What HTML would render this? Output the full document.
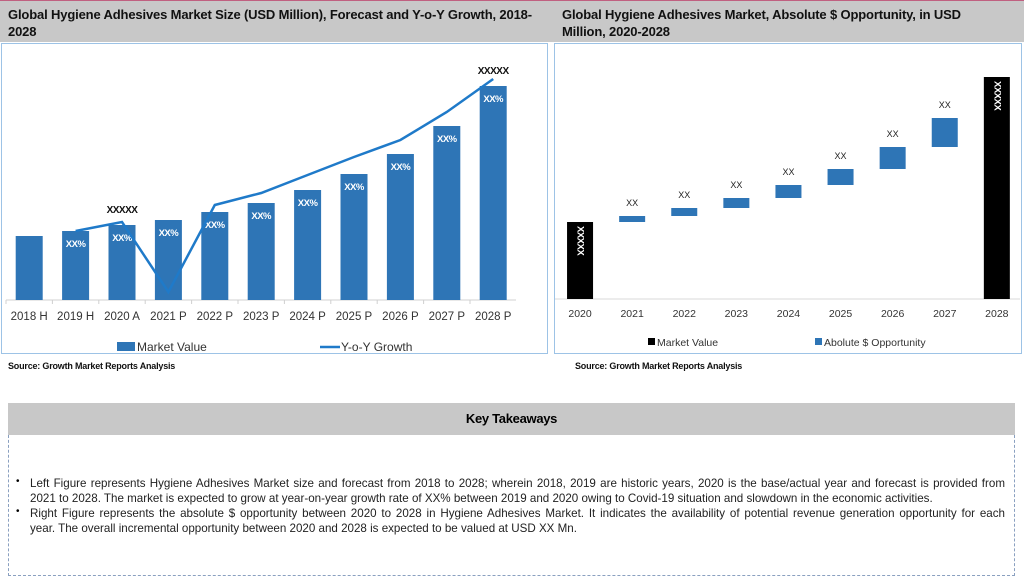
<!DOCTYPE html>
<html><head><meta charset="utf-8">
<style>
body{margin:0;width:1024px;height:579px;background:#fff;font-family:"Liberation Sans",sans-serif;position:relative;overflow:hidden}
.hdr{position:absolute;left:0;top:0;width:1024px;height:42px;background:#c8c8c8;border-top:1px solid #c06080;box-sizing:border-box}
.t{position:absolute;font-weight:bold;font-size:13px;line-height:17px;color:#111;letter-spacing:-0.15px;white-space:nowrap}
.src{position:absolute;font-weight:bold;font-size:9px;color:#111;letter-spacing:-0.2px}
.kt{position:absolute;left:8px;top:403px;width:1007px;height:32px;background:#c8c8c8;text-align:center;font-weight:bold;font-size:13px;line-height:32px;letter-spacing:-0.3px}
.box{position:absolute;left:8px;top:435px;width:1007px;height:141px;border:1px dashed #8aa0c0;border-top:none;box-sizing:border-box}
.ln{position:absolute;left:30px;width:975px;font-size:11.6px;letter-spacing:0;color:#222;text-align:justify;text-align-last:justify;white-space:nowrap;line-height:15px}
.ln.last{text-align-last:left}
.bul{position:absolute;left:16px;font-size:10px}
</style></head><body>
<div class="hdr"></div>
<div class="t" style="left:8px;top:6px;width:540px">Global Hygiene Adhesives Market Size (USD Million), Forecast and Y-o-Y Growth, 2018-<br>2028</div>
<div class="t" style="left:562px;top:6px;width:460px">Global Hygiene Adhesives Market, Absolute $ Opportunity, in USD<br>Million, 2020-2028</div>
<svg width="1024" height="400" style="position:absolute;left:0;top:0" id="svg">
<rect x="1.5" y="43.5" width="546" height="310" fill="none" stroke="#9dc3e6"/>
<rect x="554.5" y="43.5" width="467" height="310" fill="none" stroke="#9dc3e6"/>
<g id="left"></g><g id="right"></g>
</svg>
<div class="src" style="left:8px;top:361px">Source: Growth Market Reports Analysis</div>
<div class="src" style="left:575px;top:361px">Source: Growth Market Reports Analysis</div>
<div class="kt">Key Takeaways</div>
<div class="box"></div>
<div class="bul" style="top:476px">•</div>
<div class="ln" style="top:476px">Left Figure represents Hygiene Adhesives Market size and forecast from 2018 to 2028; wherein 2018, 2019 are historic years, 2020 is the base/actual year and forecast is provided from</div>
<div class="ln last" style="top:491px">2021 to 2028. The market is expected to grow at year-on-year growth rate of XX% between 2019 and 2020 owing to Covid-19 situation and slowdown in the economic activities.</div>
<div class="bul" style="top:506px">•</div>
<div class="ln" style="top:506px">Right Figure represents the absolute $ opportunity between 2020 to 2028 in Hygiene Adhesives Market. It indicates the availability of potential revenue generation opportunity for each</div>
<div class="ln last" style="top:521px">year. The overall incremental opportunity between 2020 and 2028 is expected to be valued at USD XX Mn.</div>
<script>
const leftCats=["2018 H","2019 H","2020 A","2021 P","2022 P","2023 P","2024 P","2025 P","2026 P","2027 P","2028 P"];
const marketValues=[64,69,75,80,88,97,110,126,146,174,214];
const yoyGrowth=[null,6.9,7.8,0.8,9.5,10.7,12.5,14.3,16.0,18.8,22.1];
const barLabels=["","XX%","XX%","XX%","XX%","XX%","XX%","XX%","XX%","XX%","XX%"];
const rightCats=["2020","2021","2022","2023","2024","2025","2026","2027","2028"];
const startValue=77;
const increments=[6,8,10,13,16,22,29];
const endValue=222;
const NS="http://www.w3.org/2000/svg";
function mk(p,tag,a,txt){const e=document.createElementNS(NS,tag);for(const k in a)e.setAttribute(k,a[k]);if(txt!=null)e.textContent=txt;p.appendChild(e);return e;}
const L=document.getElementById('left');
const lx0=6,lstep=46.4,lbase=300;
const lx=i=>lx0+lstep*(i+0.5);
const ly=v=>lbase-v;
const gy=g=>lbase-g*10;
let ax=mk(L,'line',{x1:6,y1:lbase,x2:516,y2:lbase,stroke:'#d0d0d0'});

leftCats.forEach((c,i)=>{
 mk(L,'line',{x1:lx0+lstep*i,y1:lbase,x2:lx0+lstep*i,y2:lbase+4,stroke:'#d0d0d0'});
 const b=mk(L,'rect',{x:lx(i)-13.5,y:ly(marketValues[i]),width:27,height:marketValues[i],fill:'#2e75b6'});
 
 
 const t=mk(L,'text',{x:lx(i),y:lbase+20,'text-anchor':'middle','font-size':11.5,fill:'#333'},c);
 
 if(barLabels[i])mk(L,'text',{x:lx(i),y:ly(marketValues[i])+16,'text-anchor':'middle','font-size':9.5,'font-weight':'bold',fill:'#fff','letter-spacing':'-0.5'},barLabels[i]);
});
let pts=[];yoyGrowth.forEach((g,i)=>{if(g!=null)pts.push(lx(i)+','+gy(g));});
const pl=mk(L,'polyline',{points:pts.join(' '),fill:'none',stroke:'#1f7ac9','stroke-width':2.5});

mk(L,'text',{x:lx(2),y:ly(marketValues[2])-12,'text-anchor':'middle','font-size':10,'font-weight':'bold',fill:'#111','letter-spacing':'-0.5'},'XXXXX');
mk(L,'text',{x:lx(10),y:ly(marketValues[10])-12,'text-anchor':'middle','font-size':10,'font-weight':'bold',fill:'#111','letter-spacing':'-0.5'},'XXXXX');
let lg=mk(L,'rect',{x:117,y:342,width:18,height:9,fill:'#2e75b6'});

mk(L,'text',{x:137,y:351,'font-size':12,fill:'#333'},'Market Value');
let lg2=mk(L,'line',{x1:320,y1:347,x2:340,y2:347,stroke:'#1f7ac9','stroke-width':2.5});

mk(L,'text',{x:341,y:351,'font-size':12,fill:'#333'},'Y-o-Y Growth');
const R=document.getElementById('right');
const rx0=554,rstep=52.1,rbase=299;
const rx=i=>rx0+rstep*(i+0.5);
const ry=v=>rbase-v;
mk(R,'line',{x1:555,y1:rbase,x2:1020,y2:rbase,stroke:'#d9d9d9'});
rightCats.forEach((c,i)=>{
 const t=mk(R,'text',{x:rx(i),y:rbase+18,'text-anchor':'middle','font-size':10.5,fill:'#333'},c);
 
});
function vbar(i,v,name){
 const b=mk(R,'rect',{x:rx(i)-13,y:ry(v),width:26,height:v,fill:'#000'});
 
 const cx=rx(i),cy=ry(v)+4;
 mk(R,'text',{x:cx,y:cy,transform:'rotate(90 '+cx+' '+cy+')','font-size':9.5,'font-weight':'bold',fill:'#fff','dominant-baseline':'middle','letter-spacing':'-0.5'},'XXXXX');
}
vbar(0,startValue,'bar-2020-market-value');
let cum=startValue;
increments.forEach((d,k)=>{
 const i=k+1;
 const b=mk(R,'rect',{x:rx(i)-13,y:ry(cum+d),width:26,height:d,fill:'#2e75b6'});
 
 
 mk(R,'text',{x:rx(i),y:ry(cum+d)-10,'text-anchor':'middle','font-size':9,fill:'#222'},'XX');
 cum+=d;
});
vbar(8,endValue,'bar-2028-market-value');
let r1=mk(R,'rect',{x:648,y:338,width:7,height:7,fill:'#000'});

mk(R,'text',{x:657,y:346,'font-size':10.5,fill:'#333'},'Market Value');
let r2=mk(R,'rect',{x:815,y:338,width:7,height:7,fill:'#2e75b6'});

mk(R,'text',{x:824,y:346,'font-size':10.5,fill:'#333'},'Abolute $ Opportunity');
</script>
</body></html>
